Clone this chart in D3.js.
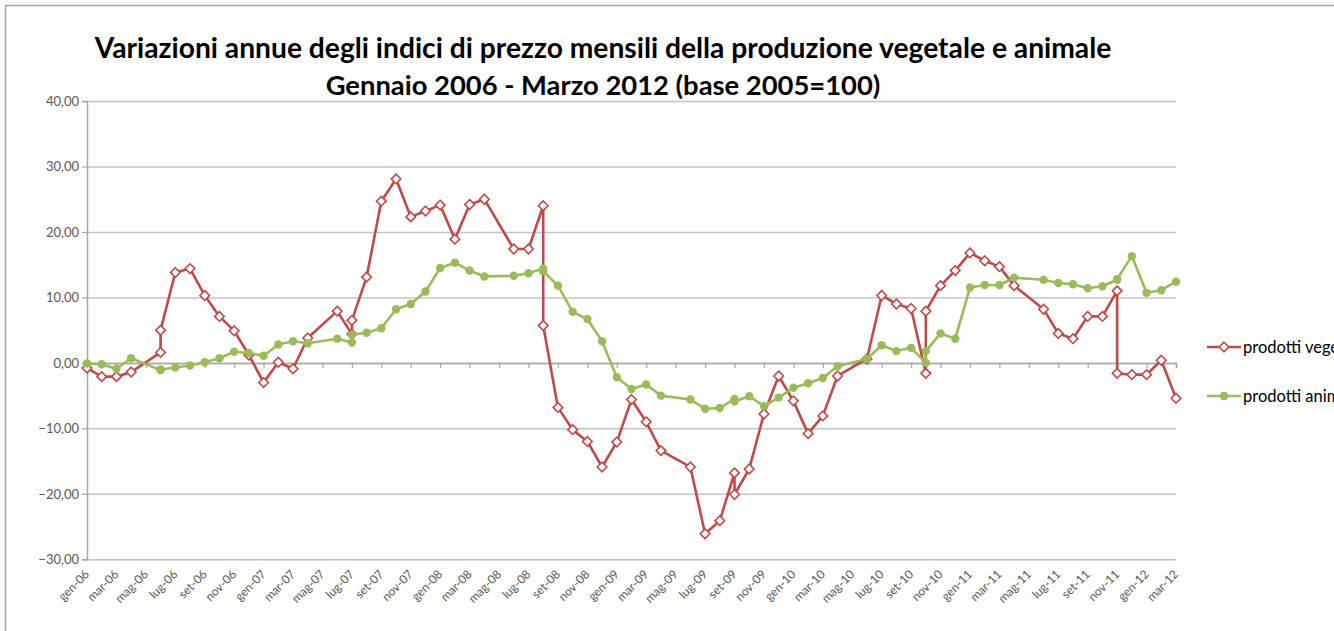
<!DOCTYPE html>
<html>
<head>
<meta charset="utf-8">
<script src="https://cdn.jsdelivr.net/npm/d3@7"></script>
<style>
  html, body { margin: 0; padding: 0; background: #fff; }
  svg { display: block; font-family: Lato, "Open Sans", sans-serif; }
</style>
</head>
<body>
<div id="chart"></div>
<script>
"use strict";

// months of each observation (some months repeat, some are missing in the source)
var mesi = [
  "2006-01","2006-02","2006-03","2006-04","2006-06","2006-06","2006-07","2006-08","2006-09","2006-10",
  "2006-11","2006-12","2007-01","2007-02","2007-03","2007-04","2007-06","2007-07","2007-07","2007-08",
  "2007-09","2007-10","2007-11","2007-12","2008-01","2008-02","2008-03","2008-04","2008-06","2008-07",
  "2008-08","2008-08","2008-09","2008-10","2008-11","2008-12","2009-01","2009-02","2009-03","2009-04",
  "2009-06","2009-07","2009-08","2009-09","2009-09","2009-10","2009-11","2009-12","2010-01","2010-02",
  "2010-03","2010-04","2010-06","2010-07","2010-08","2010-09","2010-10","2010-10","2010-11","2010-12",
  "2011-01","2011-02","2011-03","2011-04","2011-06","2011-07","2011-08","2011-09","2011-10","2011-11",
  "2011-11","2011-12","2012-01","2012-02","2012-03"
];

var vegetali = [
  -0.8, -2.1, -2.1, -1.4, 1.6, 5.0, 13.8, 14.4, 10.3, 7.1,
  4.9, 1.2, -3.0, 0.1, -0.9, 3.8, 7.9, 4.4, 6.5, 13.1,
  24.7, 28.1, 22.3, 23.2, 24.1, 18.9, 24.2, 25.0, 17.4, 17.4,
  24.0, 5.7, -6.8, -10.2, -12.0, -15.9, -12.1, -5.6, -9.0, -13.4,
  -15.9, -26.1, -24.1, -16.8, -20.1, -16.2, -7.8, -2.0, -5.8, -10.8,
  -8.1, -2.0, 0.6, 10.3, 9.0, 8.3, -1.6, 7.9, 11.8, 14.1,
  16.8, 15.6, 14.7, 11.8, 8.2, 4.5, 3.7, 7.1, 7.1, 11.0,
  -1.6, -1.8, -1.8, 0.4, -5.4
];

var animali = [
  -0.1, -0.2, -0.9, 0.7, -1.1, -1.0, -0.7, -0.4, 0.1, 0.7,
  1.7, 1.5, 1.1, 2.8, 3.3, 3.0, 3.7, 3.1, 4.3, 4.6,
  5.3, 8.2, 9.0, 10.9, 14.5, 15.3, 14.1, 13.2, 13.3, 13.7,
  14.4, 14.0, 11.8, 7.8, 6.7, 3.3, -2.2, -4.0, -3.3, -5.0,
  -5.6, -7.0, -6.9, -5.5, -5.9, -5.1, -6.6, -5.3, -3.8, -3.1,
  -2.3, -0.5, 0.6, 2.7, 1.8, 2.3, 0.0, 1.8, 4.5, 3.7,
  11.5, 11.9, 11.9, 13.0, 12.7, 12.2, 12.0, 11.4, 11.7, 12.7,
  12.8, 16.3, 10.7, 11.1, 12.4
];

var nomiSerie = ["prodotti vegetali", "prodotti animali"];
var mesiAbbr = ["gen","feb","mar","apr","mag","giu","lug","ago","set","ott","nov","dic"];
var yTicks = [-30, -20, -10, 0, 10, 20, 30, 40];
var titolo = [
  "Variazioni annue degli indici di prezzo mensili della produzione vegetale e animale",
  "Gennaio 2006 - Marzo 2012 (base 2005=100)"
];

var W = 1334, H = 631;
var red = "#be4b48", green = "#9bbb59";

var itLocale = d3.formatLocale({decimal: ",", thousands: ".", grouping: [3], currency: ["€", ""]});
var fmt = itLocale.format(".2f");

// month index from 2006-01
function meseIdx(s) {
  var p = s.split("-");
  return (+p[0] - 2006) * 12 + (+p[1] - 1);
}
var lastIdx = meseIdx("2012-03");

var svg = d3.select("#chart").append("svg")
  .attr("width", W)
  .attr("height", H);

// outer chart frame (cut off on the right and bottom)
svg.append("rect")
  .attr("x", 5.5).attr("y", 5.5)
  .attr("width", W + 50).attr("height", H + 50)
  .attr("fill", "none")
  .attr("stroke", "#a6a6a6")
  .attr("stroke-width", 1.5);

// title, scaled to fit the original width
var titleSpecs = [{y: 58, w: 1017}, {y: 95, w: 555}];
titolo.forEach(function(t, i) {
  var txt = svg.append("text")
    .attr("x", 603)
    .attr("y", titleSpecs[i].y)
    .attr("text-anchor", "middle")
    .attr("font-weight", "bold")
    .attr("font-size", 28)
    .attr("fill", "#000")
    .text(t);
  var len = txt.node().getComputedTextLength();
  txt.attr("font-size", 28 * titleSpecs[i].w / len);
});

var x = d3.scaleLinear().domain([0, lastIdx]).range([87, 1176]);
var y = d3.scaleLinear().domain([-30, 40]).range([559.3, 101]);

// gridlines
svg.append("g")
  .attr("class", "grid")
  .attr("transform", "translate(87,0)")
  .call(d3.axisLeft(y).tickValues(yTicks).tickSize(-(1176 - 87)).tickFormat(""))
  .call(function(g) {
    g.select(".domain").remove();
    g.selectAll("line").attr("stroke", "#c4c4c4").attr("stroke-width", 1.5);
  });

// y axis
svg.append("g")
  .attr("transform", "translate(87,0)")
  .call(d3.axisLeft(y).tickValues(yTicks).tickSize(5).tickPadding(3).tickFormat(fmt))
  .call(function(g) {
    g.select(".domain").attr("stroke", "#a6a6a6").attr("stroke-width", 1.5);
    g.selectAll("line").attr("stroke", "#a6a6a6").attr("stroke-width", 1.2);
    g.selectAll("text")
      .attr("font-family", "Lato, sans-serif")
      .attr("font-size", 13)
      .attr("fill", "#595959");
  });

// x axis on the zero line, labels low
var xTicks = d3.range(0, lastIdx + 1, 2);
svg.append("g")
  .attr("transform", "translate(0," + y(0) + ")")
  .call(d3.axisBottom(x).tickValues(xTicks).tickSize(5).tickFormat(""))
  .call(function(g) {
    g.select(".domain").attr("stroke", "#a6a6a6").attr("stroke-width", 1.5);
    g.selectAll("line").attr("stroke", "#a6a6a6").attr("stroke-width", 1.2);
  });

svg.append("g")
  .selectAll("text")
  .data(xTicks)
  .enter().append("text")
  .attr("transform", function(d) { return "translate(" + (x(d) + 3) + ",575) rotate(-45)"; })
  .attr("text-anchor", "end")
  .attr("font-size", 12)
  .attr("fill", "#595959")
  .text(function(d) {
    var yr = 6 + Math.floor(d / 12);
    return mesiAbbr[d % 12] + "-" + (yr < 10 ? "0" + yr : yr);
  });

// series
var serie = [
  {nome: nomiSerie[0], valori: vegetali, colore: red, tipo: "diamond"},
  {nome: nomiSerie[1], valori: animali, colore: green, tipo: "circle"}
];

var line = d3.line()
  .x(function(d) { return x(d.m); })
  .y(function(d) { return y(d.v); });

function drawMarker(g, tipo, colore) {
  if (tipo === "diamond") {
    g.append("path")
      .attr("d", "M0,-4.8L4.8,0L0,4.8L-4.8,0Z")
      .attr("fill", "#fff")
      .attr("stroke", colore)
      .attr("stroke-width", 1.6);
  } else {
    g.append("circle")
      .attr("r", 4.2)
      .attr("fill", colore);
  }
}

serie.forEach(function(s) {
  var pts = mesi.map(function(m, i) { return {m: meseIdx(m), v: s.valori[i]}; });
  svg.append("path")
    .datum(pts)
    .attr("fill", "none")
    .attr("stroke", s.colore)
    .attr("stroke-width", 2.6)
    .attr("stroke-linejoin", "round")
    .attr("d", line);
  svg.append("g")
    .selectAll("g")
    .data(pts)
    .enter().append("g")
    .attr("transform", function(d) { return "translate(" + x(d.m) + "," + y(d.v) + ")"; })
    .each(function() { drawMarker(d3.select(this), s.tipo, s.colore); });
});

// legend (cut at the right edge, as in the original picture)
var legend = svg.append("g");
serie.forEach(function(s, i) {
  var ly = 347 + i * 49;
  var lg = legend.append("g").attr("transform", "translate(1207," + ly + ")");
  lg.append("line")
    .attr("x1", 0).attr("x2", 34)
    .attr("stroke", s.colore)
    .attr("stroke-width", 2.6);
  var mk = lg.append("g").attr("transform", "translate(17,0)");
  drawMarker(mk, s.tipo, s.colore);
  lg.append("text")
    .attr("x", 36)
    .attr("y", 5.5)
    .attr("font-size", 16.5)
    .attr("fill", "#000")
    .text(s.nome);
});
</script>
</body>
</html>
